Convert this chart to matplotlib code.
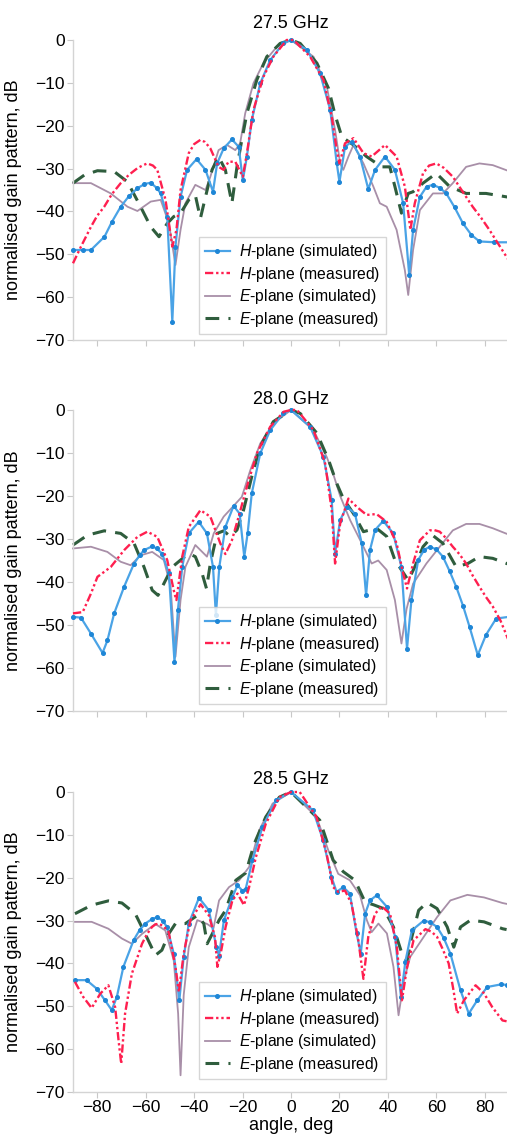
import matplotlib
matplotlib.use("Agg")
import matplotlib.pyplot as plt

plt.rcParams["font.family"] = ["Liberation Sans", "DejaVu Sans"]
plt.rcParams["mathtext.fontset"] = "custom"
plt.rcParams["mathtext.rm"] = "Liberation Sans"
plt.rcParams["mathtext.it"] = "Liberation Sans:italic"

titles = ["27.5 GHz", "28.0 GHz", "28.5 GHz"]
labels = [r"$\mathit{H}$-plane (simulated)", r"$\mathit{H}$-plane (measured)",
          r"$\mathit{E}$-plane (simulated)", r"$\mathit{E}$-plane (measured)"]

# ---- 27.5 GHz ----
h_sim_275_ang = [-90, -86, -82.6, -77, -74, -70.3, -67, -63.4, -60.5, -57.9, -55.5, -53.8, -51.1, -49, -47.7, -45.6,
                 -42.9, -39, -35.3, -32.2, -30.5, -27.8, -24.4, -21.6, -19.9, -18.2, -16.2, -12.7, -8.6, -3.2, 0, 6.6,
                 12, 16.2, 18.9, 20, 22.3, 25.1, 28.5, 31.9, 34.7, 38.8, 42.9, 46.3, 48.8, 50.4, 53.2, 56, 58.6, 61.5,
                 64.1, 67.5, 71, 74.5, 77.8, 84, 90]
h_sim_275_db = [-49, -49, -49, -45.9, -42.5, -38.9, -36.5, -34.6, -33.6, -33.3, -34.5, -35.8, -41.2, -65.7, -48.2, -36.6,
                -30.3, -27.8, -30.3, -35.4, -28.8, -25.3, -23.2, -24.9, -32.7, -27.2, -18.7, -10.1, -4.7, -0.8, 0, -2.3,
                -7.8, -16.3, -28.8, -33.1, -24.9, -23.7, -27.2, -34.8, -30.3, -27.2, -30.3, -38.1, -54.8, -44.3, -36.6,
                -34.2, -33.8, -34.5, -35.8, -39, -42.8, -45.5, -47, -47.2, -47.2]
h_meas_275_ang = [-90, -86.7, -82.6, -80, -77.1, -74, -70.3, -67, -63.4, -61, -59.3, -57, -55.2, -51.8, -49, -47.3,
                  -45.6, -42.2, -40, -37.4, -35.5, -33.3, -29.9, -27.8, -25.8, -23, -19.9, -18.2, -15.5, -11.4, -7.3,
                  -1.8, 1.1, 7.9, 13.4, 16.8, 18.9, 20, 22.3, 25.8, 29.9, 33.3, 38.8, 43.6, 47, 49.3, 51.1, 54.5, 57,
                  60, 63, 66.8, 71, 75, 78.5, 81.9, 85.5, 90]
h_meas_275_db = [-52.1, -48.2, -43.6, -41, -38.9, -36, -33.4, -31.5, -29.9, -29.2, -28.8, -29.3, -30.3, -37.3, -48.2,
                 -44.3, -35, -26.4, -24.3, -23.3, -23.8, -25.3, -29.6, -30.3, -28.4, -28.4, -31.9, -26.4, -16.3, -8.6,
                 -3.9, 0, 0, -3.9, -9.3, -17.9, -25.7, -28.8, -24.1, -22.9, -26.4, -27.2, -24.5, -27.2, -34.2, -44.3,
                 -38.1, -31.1, -29.3, -28.8, -29.8, -31.9, -35.5, -38.9, -41.5, -44.3, -47.5, -51.5]
e_sim_275_ang = [-90, -82.6, -74.4, -67.5, -63.4, -57.9, -53.8, -50.4, -47.7, -45.6, -43.6, -39.5, -35.3, -33.3, -29.9,
                 -26.4, -23, -21, -18.9, -15.5, -11.4, -5.9, 0, 9.3, 14.8, 18.2, 20.3, 21.6, 23.7, 25.8, 29.9, 34,
                 36.7, 39.5, 43.6, 47, 48.4, 50.4, 53.2, 58.6, 62.7, 66.8, 72.3, 77.8, 83.3, 90]
e_sim_275_db = [-33.4, -33.4, -35.8, -38.9, -39.9, -37.7, -37.3, -42.8, -52.5, -44.3, -38.1, -33.8, -35, -31.9, -25.7,
                -24.5, -25.7, -24.1, -17.1, -10.1, -5.4, -1.6, 0, -3.9, -10.9, -21, -28.8, -30.3, -27.2, -24.5, -28.8,
                -34.2, -38.1, -38.9, -44.3, -53.7, -59.5, -49, -39.7, -35.8, -35.8, -33.4, -29.6, -28.8, -29.2, -30.6]
e_meas_275_ang = [-90, -85.3, -79.9, -73, -67.5, -62.1, -57.9, -54.5, -51.1, -48.4, -45.6, -42.2, -39.5, -37.4, -35.3,
                  -32.6, -29.9, -27.1, -24.4, -22.3, -20.3, -18.2, -14.1, -10, -4.5, 0, 3.8, 10.7, 15.5, 18.2, 21,
                  25.8, 31.2, 37.4, 40.8, 42.9, 45.6, 48.4, 50.4, 54.5, 60, 65.5, 72.3, 80.5, 90]
e_meas_275_db = [-33.4, -31.5, -30.5, -30.7, -33.1, -38.9, -43.6, -45.9, -42.8, -41.2, -40.4, -37.3, -36.2, -41.6, -36.6,
                 -30.3, -27.2, -30.3, -38.1, -29.6, -23.3, -17.1, -9.3, -3.9, -0.8, 0, -0.8, -5.4, -11.3, -17.5, -22.6,
                 -24.5, -27.2, -29.6, -29.6, -34.2, -40.4, -35.8, -35.4, -33.4, -31.1, -34.2, -35.8, -35.8, -36.7]

# ---- 28.0 GHz ----
h_sim_280_ang = [-90, -86.7, -82.6, -77.8, -75.8, -73, -68.9, -64.8, -62.5, -60.7, -57.3, -55.5, -53.2, -50.4, -48.1,
                 -46.7, -44.9, -42.2, -38.1, -34.7, -32.2, -31, -29.6, -27.1, -23.7, -21.2, -19.3, -17.9, -16.2, -12.7,
                 -8.6, -3.2, 0, 7.9, 13.4, 16.8, 18.2, 20.3, 23, 26.4, 29.2, 31, 32.6, 34.7, 38.1, 42.2, 45.6, 47.9,
                 49.7, 52.5, 55, 57.3, 60, 62.7, 65.5, 68.2, 71, 73.7, 77.1, 80.5, 84.7, 90]
h_sim_280_db = [-48.1, -48.3, -52, -56.5, -53.6, -47.3, -41.1, -35.7, -33.8, -32.6, -31.7, -32.2, -33.4, -38, -58.6,
                -46.6, -36.5, -28.7, -26, -28.7, -36.5, -47.7, -36.5, -27.2, -22.3, -24.1, -34.1, -28.7, -19.4, -10.1,
                -4.7, -0.8, 0, -3.9, -10.9, -21, -33.4, -25.6, -22.5, -24.1, -31, -43.1, -32.6, -27.9, -25.8, -28.7,
                -36.5, -55.5, -44.3, -34.9, -32.5, -31.8, -32.4, -34.1, -37.5, -41.1, -45.5, -50.4, -57, -52.3, -48.5,
                -48.1]
h_meas_280_ang = [-90, -86, -82.6, -79.9, -74.4, -68.9, -63.4, -59.3, -55.2, -51.1, -48.1, -47.3, -44.9, -42.2, -37.4,
                  -33.3, -29.2, -27.1, -24.4, -21.6, -18.2, -14.1, -8.6, -3, 0, 2.5, 9.3, 14.1, 16.8, 18.2, 20.3, 23.7,
                  27.1, 31.2, 35.3, 39.5, 43.6, 46.3, 47.9, 50.4, 53.2, 57.3, 59, 61.4, 64, 66.8, 69.5, 72.3, 75, 77.8,
                  80.5, 83.3, 86.5, 90]
h_meas_280_db = [-47.3, -47, -42.7, -38.8, -36.5, -32.6, -29.5, -28.3, -29.5, -34.9, -42.7, -44.2, -34.1, -27.2, -23.3,
                 -24.8, -31, -33.5, -30.3, -24.8, -17.8, -10.1, -3.9, -0.4, 0, 0, -4.7, -12.4, -23.3, -35.7, -26.4,
                 -20.6, -22.5, -24.4, -24.2, -26, -31, -38, -41.5, -35.7, -30.3, -28, -27.9, -28.3, -29.8, -31.8, -33.5,
                 -35.7, -38.5, -41.1, -43.5, -45.7, -49, -53.8]
e_sim_280_ang = [-90, -82.6, -75.8, -70.3, -66.2, -62.1, -57.3, -52.5, -49.7, -47.7, -45.6, -43.6, -39.5, -34.7, -31.9,
                 -27.8, -23.7, -20.3, -16.8, -12.7, -7.3, 0, 9.3, 14.8, 17.5, 20.3, 24.4, 29.2, 33.3, 36, 39.5, 42.9,
                 45.6, 47.7, 50.4, 55.9, 61.4, 66.8, 72.3, 77.8, 83.3, 90]
e_sim_280_db = [-32.2, -31.8, -33, -35.3, -36.1, -33.8, -33, -34.9, -41.1, -57.4, -44.2, -36.5, -31.4, -34.1, -28.7,
                -24.8, -22.3, -20.2, -14, -7.8, -3.1, 0, -4.7, -11, -15, -20, -25.6, -31, -35.7, -35, -37.2, -44.2,
                -54.3, -46.3, -40.4, -35.7, -31.8, -28, -26.5, -26.5, -27.5, -29]
e_meas_280_ang = [-90, -84, -77.1, -70.3, -64.8, -60.7, -57.3, -54.9, -51.8, -49, -45.6, -42.2, -39.5, -36.7, -34.9,
                  -33.3, -30.5, -27.8, -25.1, -22.3, -19.6, -16.2, -12.7, -7.3, 0, 3.8, 10.7, 15.5, 18.9, 21.6, 25.8,
                  29.9, 35.3, 39.5, 42.9, 45.6, 48.4, 51.1, 54.5, 58.6, 62.7, 68.2, 73, 77.8, 83.3, 90]
e_meas_280_db = [-31.4, -29.1, -28.1, -28.7, -31, -36.5, -41.9, -43.1, -39.6, -36.5, -34.9, -33.4, -34.1, -38, -41.5,
                 -35.7, -28.7, -28.1, -29.4, -27.9, -23.3, -15.5, -8.5, -2.7, 0, -0.8, -5.4, -11.6, -17.1, -20.6, -24.1,
                 -28.3, -27.5, -29.4, -34.9, -37.2, -39.6, -36.5, -31.8, -29.2, -31, -36.5, -35.7, -34.1, -34.5, -35.9]

# ---- 28.5 GHz ----
h_sim_285_ang = [-89.2, -84.4, -80.2, -76.8, -74, -71.9, -69.2, -65, -62.5, -60.2, -57.5, -55.3, -53, -51.2, -48.4,
                 -46.1, -44.3, -42.2, -38, -33.9, -30.8, -29.7, -27.7, -24.2, -22.1, -20.1, -18.7, -15.9, -11.8, -6.2,
                 0, 9.1, 13.3, 16.7, 18.8, 21.6, 24.3, 27.1, 28.8, 30.6, 32.6, 35.4, 39.6, 43, 45.4, 47.2, 49.9, 54.8,
                 57.5, 60.3, 63, 65.8, 70, 73.4, 76.9, 81, 86.6, 89]
h_sim_285_db = [-43.9, -43.9, -45.9, -48.6, -50.9, -47.8, -40.8, -34.6, -32.2, -30.7, -29.7, -29.2, -30, -31.5, -37.7,
                -48.6, -38.5, -30.7, -24.7, -27.6, -36.2, -38.2, -29.9, -24.5, -21.8, -23, -22.6, -15.9, -8.2, -1.9, 0,
                -4.3, -11.3, -19.8, -23.3, -22.2, -23.7, -33, -37.7, -28.4, -25.3, -24.1, -26.8, -33.8, -47.8, -39.6,
                -32.3, -30, -30.4, -31.5, -34, -37.7, -46.3, -51.7, -48.6, -45.5, -44.9, -45]
h_meas_285_ang = [-89.2, -85.8, -82.3, -78.8, -75.4, -72.6, -71.2, -70.1, -68.5, -65.7, -61.5, -59.5, -57.4, -56, -54.6,
                  -52.5, -50.5, -47.7, -46.3, -44.3, -41.5, -37.3, -33.9, -31.4, -30.4, -29, -27, -24.2, -22.1, -19.4,
                  -17.3, -14.5, -10.4, -4.8, 0, 3.6, 10.5, 14.7, 17.4, 19.5, 22.3, 25, 27.8, 29.9, 31.9, 34.7, 37.5,
                  40.9, 43.7, 45.8, 47.9, 50.6, 55.5, 58, 60.3, 62.5, 65.1, 67, 68.6, 71.4, 76.2, 79.7, 83.1, 87.3, 89]
h_meas_285_db = [-44.3, -47.8, -50.4, -47.1, -45.1, -50.2, -57.9, -63.4, -51.7, -42.4, -35.4, -33.2, -31.5, -30.9, -30.7,
                 -31.4, -32.7, -40.8, -46.7, -37.7, -29.9, -26.2, -28.8, -33.8, -40.8, -37.6, -31.5, -25.3, -23.7, -26.4,
                 -22.2, -15.2, -7.4, -1.2, 0, 0, -5.8, -14.4, -22.2, -23.3, -23, -26.1, -34.6, -43.6, -33.8, -28.4,
                 -26.7, -28.4, -36.2, -48.6, -40.9, -34.6, -32, -32.6, -33.8, -36.5, -40, -46, -51.7, -48.6, -45.1, -47,
                 -50.2, -53.3, -53.5]
e_sim_285_ang = [-89.2, -82.3, -75.4, -69.8, -65.7, -61.5, -56, -51.9, -48.4, -46.6, -45.6, -44.3, -42.2, -38.7, -34.6,
                 -32, -29.7, -25.6, -21.4, -17.3, -13.1, -7.6, 0, 10.5, 15.4, 19.5, 24.3, 28.5, 31.3, 33.3, 36.1, 39.6,
                 42.3, 44.4, 46.5, 49.2, 54.8, 60.3, 65.8, 72.8, 79.7, 87.3, 89]
e_sim_285_db = [-30.3, -30.3, -31.9, -34.2, -35.4, -33.1, -30.8, -32.3, -39.3, -51.7, -66.1, -47.4, -36.2, -29.9, -30.8,
                -31.8, -25.3, -22.2, -20.6, -17.5, -8.9, -2.7, 0, -5.8, -13.6, -19.1, -20.6, -24.1, -29.9, -32.7, -30.7,
                -33, -40.8, -52.1, -44.3, -38.5, -33.8, -29.2, -25.3, -24, -24.6, -25.9, -26.1]
e_meas_285_ang = [-89.2, -82.3, -75.4, -69.8, -64.3, -60.2, -56, -53.3, -50.5, -47.7, -43.6, -38.7, -36, -34.6, -32.5,
                  -29.7, -27, -22.8, -18.7, -15.2, -10.4, -4.8, 0, 11.9, 17.4, 21.6, 26.4, 30.6, 34, 38.2, 42.3, 45.8,
                  47.9, 49.9, 52.7, 56.2, 60.3, 64.5, 67.2, 70, 74.1, 79.7, 87.3, 89]
e_meas_285_db = [-28.4, -26.4, -25.4, -25.9, -28.4, -33.1, -38.1, -36.9, -33.1, -30.7, -30.7, -28.8, -30.7, -35.4, -33.1,
                 -29.9, -27.6, -20.6, -18.9, -12.1, -5.8, -1.2, 0, -6.6, -15.9, -18.6, -20.6, -25.7, -26.3, -27.2, -31.5,
                 -37.7, -39.3, -33.8, -27.6, -25.8, -27.2, -31.5, -36.2, -31.5, -29.9, -30.3, -31.9, -32.1]

panels = [
    [(h_sim_275_ang, h_sim_275_db), (h_meas_275_ang, h_meas_275_db),
     (e_sim_275_ang, e_sim_275_db), (e_meas_275_ang, e_meas_275_db)],
    [(h_sim_280_ang, h_sim_280_db), (h_meas_280_ang, h_meas_280_db),
     (e_sim_280_ang, e_sim_280_db), (e_meas_280_ang, e_meas_280_db)],
    [(h_sim_285_ang, h_sim_285_db), (h_meas_285_ang, h_meas_285_db),
     (e_sim_285_ang, e_sim_285_db), (e_meas_285_ang, e_meas_285_db)],
]

W, H = 507, 1141
fig = plt.figure(figsize=(W / 100, H / 100), dpi=100)

# axes boxes in pixels: (top, bottom)
boxes = [(40, 340), (410, 711), (792, 1092)]
title_pads = [9, 4, 6]
legend_y = [0.02, 0.023, 0.043]
left_px, right_px = 73, 509

styles = [
    dict(color="#4aa3e6", lw=1.6, marker="o", ms=2.6, mfc="#1e86d6", mec="#1e86d6", zorder=3),
    dict(color="#ff1f4f", lw=1.7, dashes=(3.5, 1.2, 1, 1.2, 1, 1.2), zorder=4),
    dict(color="#a88fa8", lw=1.3, zorder=2),
    dict(color="#2f5d3d", lw=2.2, dashes=(4.5, 3), zorder=2),
]

for i, (top, bottom) in enumerate(boxes):
    ax = fig.add_axes([left_px / W, 1 - bottom / H, (right_px - left_px) / W, (bottom - top) / H])
    for (ang, db), st, lab in zip(panels[i], styles, labels):
        ax.plot(ang, db, label=lab, clip_on=False, **st)
    ax.set_xlim(-90, 90)
    ax.set_ylim(-70, 0)
    ax.set_yticks(range(-70, 1, 10))
    ax.set_xticks(range(-80, 81, 20))
    for s in ["top", "right"]:
        ax.spines[s].set_visible(False)
    for s in ["left", "bottom"]:
        ax.spines[s].set_color("#d4d4d4")
        ax.spines[s].set_linewidth(1.0)
    ax.tick_params(axis="both", direction="out", length=4, width=0.8, color="#c8c8c8",
                   labelsize=12.5, pad=2)
    if i < 2:
        ax.tick_params(axis="x", labelbottom=False)
    else:
        ax.set_xlabel("angle, deg", fontsize=13, labelpad=1)
    ax.set_ylabel("normalised gain pattern, dB", fontsize=13)
    ax.yaxis.set_label_coords(-0.117, 0.5)
    ax.set_title(titles[i], fontsize=13, pad=title_pads[i])
    leg = ax.legend(loc="lower left", bbox_to_anchor=(0.29, legend_y[i]), borderaxespad=0,
                    fontsize=11.3, frameon=True, fancybox=False, handlelength=1.6,
                    handletextpad=0.6, labelspacing=0.22, borderpad=0.35)
    leg.get_frame().set_edgecolor("#cccccc")
    leg.get_frame().set_linewidth(1.0)

fig.savefig("out.png", dpi=100)
